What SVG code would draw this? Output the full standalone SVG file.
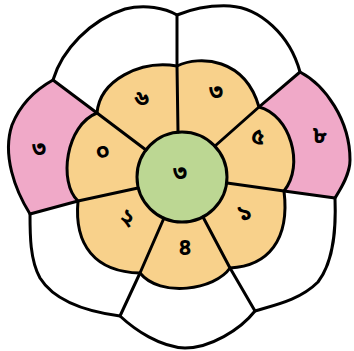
<svg xmlns="http://www.w3.org/2000/svg" width="354" height="351" viewBox="0 0 354 351">
<style>
.ln{fill:none;stroke:#000;stroke-width:3;stroke-linejoin:round;stroke-linecap:round}
.w{fill:#fff}
.pk{fill:#F0A9C8}
.or{fill:#F8D18B}
.gr{fill:#BCD793}
.t{font-family:'Noto Sans Bengali','Lohit Bengali','FreeSans','Noto Sans',sans-serif;font-size:23px;font-weight:700;fill:#000;text-anchor:middle;dominant-baseline:central}
</style>
<rect width="354" height="351" fill="#fff"/>
<g id="outer-ring">
<path id="outline" class="w" d="M177,15 C192,9 210,5 230,6 C260,8 290,35 300,72 C325,85 350,120 350,160 C350,175 340,190 335,198 C336,225 335,260 318,282 C300,300 275,305 255,311 C240,330 210,348 185,348 C160,347 135,330 120,316 C90,312 55,302 40,278 C30,260 30,235 30,214 C15,190 2,155 12,125 C20,105 35,90 53,80 C62,50 90,20 125,9 C145,4 165,8 177,15 Z"/>
</g>
<g id="pink-left"><path class="pk" d="M53,80 L97,113 C66,125 58,182 78,201 L30,214 C15,190 2,155 12,125 C20,105 35,90 53,80 Z"/></g>
<g id="pink-right"><path class="pk" d="M300,72 C325,85 350,120 350,160 C350,175 340,190 335,198 L284,191 C305,165 290,115 259,107 Z"/></g>
<g id="petals">
<path id="flower" class="or" d="M177,66 C200,55 245,58 259,107 C290,115 305,165 284,191 C290,240 268,266 230,268 C215,290 160,298 140,273 C95,272 74,245 78,201 C58,182 66,125 97,113 C100,80 140,60 177,66 Z"/>
</g>
<g id="center"><circle class="gr" cx="182" cy="177" r="45"/></g>
<g id="connectors" class="ln">
<path d="M177,15 C192,9 210,5 230,6 C260,8 290,35 300,72 C325,85 350,120 350,160 C350,175 340,190 335,198 C336,225 335,260 318,282 C300,300 275,305 255,311 C240,330 210,348 185,348 C160,347 135,330 120,316 C90,312 55,302 40,278 C30,260 30,235 30,214 C15,190 2,155 12,125 C20,105 35,90 53,80 C62,50 90,20 125,9 C145,4 165,8 177,15 Z"/>
<path d="M177,66 C200,55 245,58 259,107 C290,115 305,165 284,191 C290,240 268,266 230,268 C215,290 160,298 140,273 C95,272 74,245 78,201 C58,182 66,125 97,113 C100,80 140,60 177,66 Z"/>
<circle cx="182" cy="177" r="45"/>
<path d="M178,132 L177,66 L177,15"/>
<path d="M215,146 L259,107 L300,72"/>
<path d="M227,183 L284,191 L335,198"/>
<path d="M203,217 L230,268 L255,311"/>
<path d="M164,218 L140,273 L120,316"/>
<path d="M138,188 L78,201 L30,214"/>
<path d="M146,150 L97,113 L53,80"/>
</g>
<g id="labels">
<text class="t" x="142" y="100" transform="rotate(-15 142 100)">৬</text>
<text class="t" x="216" y="93">৩</text>
<text class="t" x="258" y="138" transform="rotate(10 258 138)">৫</text>
<text class="t" x="245" y="214" transform="rotate(-20 245 214)">১</text>
<text class="t" x="185" y="249">৪</text>
<text class="t" x="127" y="219" transform="rotate(25 127 219)">২</text>
<text class="t" x="103" y="153" transform="rotate(-20 103 153)">০</text>
<text class="t" x="39" y="150">৩</text>
<text class="t" x="180" y="174">৩</text>
<text class="t" x="320" y="137">৮</text>
</g>
</svg>
